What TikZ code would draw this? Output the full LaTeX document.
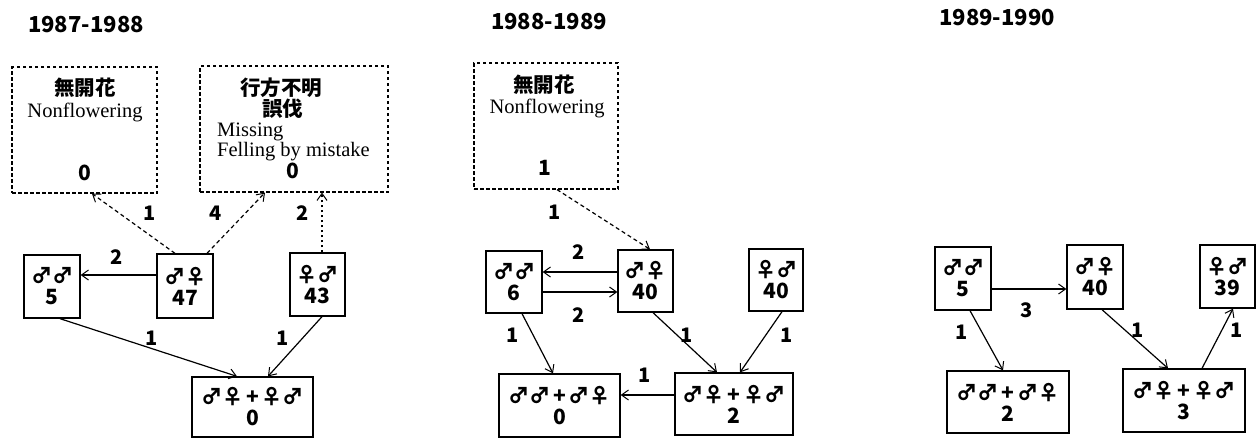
\documentclass[tikz,border=0pt]{standalone}
\usepackage{fontspec}
\newfontfamily\jp{Noto Sans CJK JP}
\newfontfamily\ser{Liberation Serif}
\usetikzlibrary{arrows.meta}
\newcommand{\pl}{\kern3pt+\kern3pt}
\tikzset{
  box/.style={draw, line width=1.3pt, inner sep=0pt, align=center,
    font=\jp\bfseries\fontsize{21}{21}\selectfont},
  dbox/.style={draw, line width=1.2pt, dash pattern=on 3.5pt off 2.5pt, inner sep=0pt},
  arr/.style={line width=1.2pt, -{Straight Barb[length=7pt,width=10pt,line width=1pt]}},
  darr/.style={arr, dash pattern=on 4pt off 3pt},
  dotarr/.style={arr, dash pattern=on 2.5pt off 2.5pt},
  lbl/.style={inner sep=0pt, font=\jp\bfseries\fontsize{20}{20}\selectfont},
  ttl/.style={inner sep=0pt, font=\jp\bfseries\fontsize{22}{22}\selectfont},
  jtxt/.style={inner sep=0pt, font=\jp\bfseries\fontsize{20.5}{21}\selectfont},
  etxt/.style={inner sep=0pt, font=\ser\fontsize{20.5}{21}\selectfont},
}
\begin{document}
\begin{tikzpicture}[x=1pt,y=-1pt]
\useasboundingbox[fill=white] (0,0) rectangle (1260,439);

% titles
\node[ttl] (t1) at (86,25) {1987-1988};
\node[ttl] (t2) at (549,22) {1988-1989};
\node[ttl] (t3) at (997,18) {1989-1990};

% ---------- panel 1 ----------
\node[dbox, minimum width=145pt, minimum height=126pt] (nf1) at (84.5,130) {};
\node[jtxt] (nf1a) at (85,88) {無開花};
\node[etxt] (nf1b) at (85,112) {Nonflowering};
\node[box, draw=none] (nf1c) at (85,173) {0};

\node[dbox, minimum width=188pt, minimum height=126pt] (ms1) at (294,129) {};
\node[jtxt] (ms1a) at (281,88) {行方不明};
\node[jtxt] (ms1b) at (282.5,109) {誤伐};
\node[etxt, anchor=west] (ms1c) at (217,132) {Missing};
\node[etxt, anchor=west] (ms1d) at (217,152) {Felling by mistake};
\node[box, draw=none] (ms1e) at (293,171) {0};

\node[box, minimum width=56pt, minimum height=63pt] (mm1) at (52,286.5) {♂♂\\5};
\node[box, minimum width=56pt, minimum height=64pt] (mf1) at (185,286) {♂♀\\47};
\node[box, minimum width=55pt, minimum height=63pt] (fm1) at (317.5,284.5) {♀♂\\43};
\node[box, minimum width=121pt, minimum height=60pt] (bt1) at (252.5,407) {♂♀\pl♀♂\\0};

\draw[darr] ([xshift=-10pt]mf1.north) -- ([xshift=7.5pt]nf1.south);
\draw[darr] ([xshift=22pt]mf1.north) -- ([xshift=-29pt]ms1.south);
\draw[dotarr] ([xshift=4.5pt]fm1.north) -- ([xshift=28pt]ms1.south);
\draw[arr] ([yshift=11pt]mf1.west) -- ([yshift=11pt]mf1.west -| mm1.east);
\draw[arr] ([xshift=8pt]mm1.south) -- ([xshift=-15.5pt]bt1.north);
\draw[arr] ([xshift=4.5pt]fm1.south) -- ([xshift=15.5pt]bt1.north);

\node[lbl] (l11) at (150,213) {1};
\node[lbl] (l12) at (216,213) {4};
\node[lbl] (l13) at (303,213) {2};
\node[lbl] (l14) at (117,257) {2};
\node[lbl] (l15) at (152,338) {1};
\node[lbl] (l16) at (283,338) {1};

% ---------- panel 2 ----------
\node[dbox, minimum width=144pt, minimum height=126pt] (nf2) at (546,126) {};
\node[jtxt] (nf2a) at (544,85) {無開花};
\node[etxt] (nf2b) at (547,108) {Nonflowering};
\node[box, draw=none] (nf2c) at (545,168) {1};

\node[box, minimum width=56pt, minimum height=62pt] (mm2) at (514,282) {♂♂\\6};
\node[box, minimum width=55pt, minimum height=62pt] (mf2) at (645.5,281) {♂♀\\40};
\node[box, minimum width=54pt, minimum height=62pt] (fm2) at (776,280) {♀♂\\40};
\node[box, minimum width=121pt, minimum height=63pt] (bl2) at (559.5,405.5) {♂♂\pl♂♀\\0};
\node[box, minimum width=118pt, minimum height=62pt] (br2) at (734,404) {♂♀\pl♀♂\\2};

\draw[darr] ([xshift=11pt]nf2.south) -- ([xshift=4.5pt]mf2.north);
\draw[arr] ([yshift=9pt]mf2.west) -- ([yshift=9pt]mf2.west -| mm2.east);
\draw[arr] ([yshift=-10pt]mm2.east) -- ([yshift=-10pt]mm2.east -| mf2.west);
\draw[arr] ([xshift=8pt]mm2.south) -- ([xshift=-6.5pt]bl2.north);
\draw[arr] ([xshift=7.5pt]mf2.south) -- ([xshift=-17pt]br2.north);
\draw[arr] ([xshift=6pt]fm2.south) -- ([xshift=6pt]br2.north);
\draw[arr] ([yshift=9pt]br2.west) -- ([yshift=9pt]br2.west -| bl2.east);

\node[lbl] (l21) at (555,212) {1};
\node[lbl] (l22) at (579,252) {2};
\node[lbl] (l23) at (579,315) {2};
\node[lbl] (l24) at (513,335) {1};
\node[lbl] (l25) at (687,335) {1};
\node[lbl] (l26) at (787,335) {1};
\node[lbl] (l27) at (645,375) {1};

% ---------- panel 3 ----------
\node[box, minimum width=56pt, minimum height=63pt] (mm3) at (963,278.5) {♂♂\\5};
\node[box, minimum width=56pt, minimum height=64pt] (mf3) at (1095,277) {♂♀\\40};
\node[box, minimum width=55pt, minimum height=63pt] (fm3) at (1227.5,276.5) {♀♂\\39};
\node[box, minimum width=122pt, minimum height=62pt] (bl3) at (1008,402) {♂♂\pl♂♀\\2};
\node[box, minimum width=122pt, minimum height=63pt] (br3) at (1184,400.5) {♂♀\pl♀♂\\3};

\draw[arr] ([yshift=-10.5pt]mm3.east) -- ([yshift=-10.5pt]mm3.east -| mf3.west);
\draw[arr] ([xshift=7pt]mm3.south) -- ([xshift=-5pt]bl3.north);
\draw[arr] ([xshift=7pt]mf3.south) -- ([xshift=-16pt]br3.north);
\draw[arr] ([xshift=18pt]br3.north) -- ([xshift=5.5pt]fm3.south);

\node[lbl] (l31) at (1027,310) {3};
\node[lbl] (l32) at (962,332) {1};
\node[lbl] (l33) at (1138,330) {1};
\node[lbl] (l34) at (1237,330) {1};
\end{tikzpicture}
\end{document}
